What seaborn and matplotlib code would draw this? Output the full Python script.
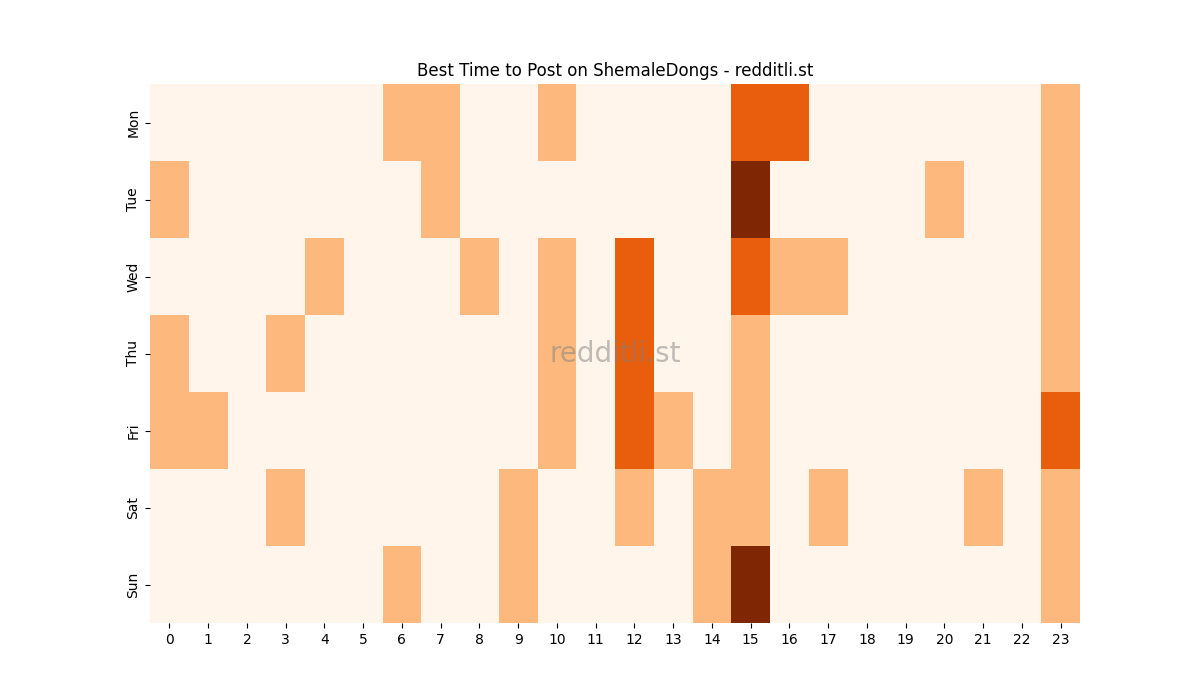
import numpy as np
import pandas as pd
import matplotlib
matplotlib.use("Agg")
import matplotlib.pyplot as plt
import seaborn as sns

# Datos (nivel de actividad por hora)
days = ["Mon", "Tue", "Wed", "Thu", "Fri", "Sat", "Sun"]
hours = list(range(24))

mon = [0, 0, 0, 0, 0, 0, 1, 1, 0, 0, 1, 0, 0, 0, 0, 2, 2, 0, 0, 0, 0, 0, 0, 1]
tue = [1, 0, 0, 0, 0, 0, 0, 1, 0, 0, 0, 0, 0, 0, 0, 3, 0, 0, 0, 0, 1, 0, 0, 1]
wed = [0, 0, 0, 0, 1, 0, 0, 0, 1, 0, 1, 0, 2, 0, 0, 2, 1, 1, 0, 0, 0, 0, 0, 1]
thu = [1, 0, 0, 1, 0, 0, 0, 0, 0, 0, 1, 0, 2, 0, 0, 1, 0, 0, 0, 0, 0, 0, 0, 1]
fri = [1, 1, 0, 0, 0, 0, 0, 0, 0, 0, 1, 0, 2, 1, 0, 1, 0, 0, 0, 0, 0, 0, 0, 2]
sat = [0, 0, 0, 1, 0, 0, 0, 0, 0, 1, 0, 0, 1, 0, 1, 1, 0, 1, 0, 0, 0, 1, 0, 1]
sun = [0, 0, 0, 0, 0, 0, 1, 0, 0, 1, 0, 0, 0, 0, 1, 3, 0, 0, 0, 0, 0, 0, 0, 1]


def main():
    df = pd.DataFrame([mon, tue, wed, thu, fri, sat, sun], index=days, columns=hours)

    fig, ax = plt.subplots(figsize=(12, 7), dpi=100)
    sns.heatmap(df, cmap="Oranges", cbar=False, vmin=0, vmax=3, ax=ax)

    ax.set_title("Best Time to Post on ShemaleDongs - redditli.st")
    ax.set_xlabel("")
    ax.set_ylabel("")

    # marca de agua
    ax.text(0.5, 0.5, "redditli.st", transform=ax.transAxes, fontsize=20,
            color="gray", alpha=0.5, ha="center", va="center")

    fig.savefig("out.png", dpi=100)
    plt.close(fig)


if __name__ == "__main__":
    main()
